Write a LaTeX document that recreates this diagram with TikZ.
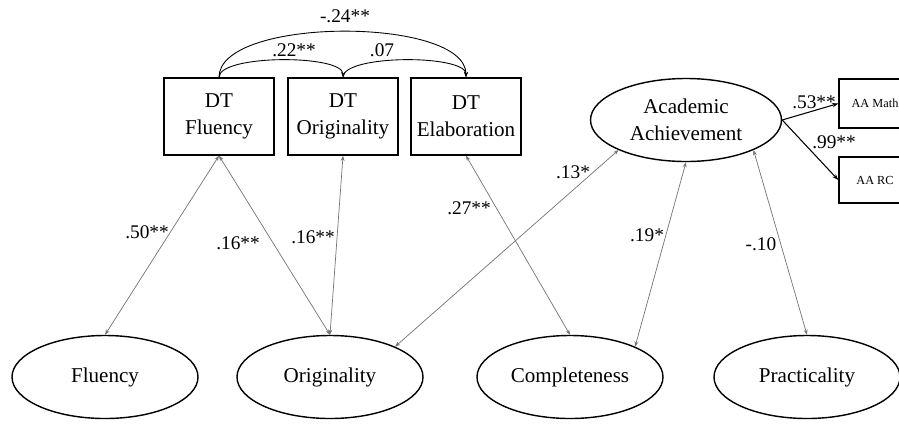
\documentclass[tikz,border=0pt]{standalone}
\usepackage{fontspec}
\setmainfont{Liberation Serif}
\usetikzlibrary{shapes.geometric,arrows.meta}
\begin{document}
\begin{tikzpicture}[x=0.2mm,y=-0.2mm,
  every node/.style={font=\fontsize{12}{15.5}\selectfont},
  dtbox/.style={draw,thick,minimum width=22mm,minimum height=15.4mm,align=center,inner sep=0pt},
  aabox/.style={draw,thick,minimum width=14.4mm,minimum height=9.8mm,inner sep=0pt,font=\fontsize{7}{8}\selectfont},
  latent/.style={draw,thick,ellipse,minimum width=37.2mm,minimum height=16.6mm,inner sep=0pt,align=center},
  coef/.style={font=\fontsize{11}{13}\selectfont,inner sep=1pt},
  cov/.style={draw=black!55,line width=0.4pt,{Stealth[length=3pt,width=2.2pt]}-{Stealth[length=3pt,width=2.2pt]}},
  arc/.style={draw,line width=0.5pt,-{Stealth[length=3pt,width=2.2pt]}},
  load/.style={draw,line width=0.6pt,-{Stealth[length=3.5pt,width=2.5pt]}}]
\clip (0,0) rectangle (899,423);
% DT scores
\node[dtbox] (dfl) at (219,116.5) {DT\\Fluency};
\node[dtbox] (dor) at (343,116.5) {DT\\Originality};
\node[dtbox] (del) at (466,116.5) {DT\\Elaboration};
% academic achievement
\node[latent,minimum width=38.2mm] (aa) at (686,120) {Academic\\Achievement};
\node[aabox] (math) at (875,103.5) {AA Math};
\node[aabox,minimum height=9.2mm] (rc) at (875,180) {AA RC};
% creativity factors
\node[latent] (flu) at (105,377) {Fluency};
\node[latent] (ori) at (330,377) {Originality};
\node[latent] (com) at (570,377) {Completeness};
\node[latent] (pra) at (807,377) {Practicality};
% covariances between DT scores
\draw[arc] (dfl.north) .. controls +(0,-23) and +(0,-23) .. (dor.north);
\draw[arc] (dor.north) .. controls +(0,-23) and +(0,-23) .. (del.north);
\draw[arc] (dfl.north) .. controls +(0,-61) and +(0,-61) .. (del.north);
\node[coef] (c1) at (345,16) {-.24**};
\node[coef] (c2) at (294,50) {.22**};
\node[coef] (c3) at (382,50) {.07};
% paths
\draw[cov] (flu.north) -- (dfl.south);
\draw[cov] (dfl.south) -- (ori.north);
\draw[cov] (dor.south) -- (ori.north);
\draw[cov] (del.south) -- (com.north);
\draw[cov] (ori.25) -- (aa.204);
\draw[cov] (com.25) -- (aa.south);
\draw[cov] (pra.north) -- (aa.336);
\node[coef] (p1) at (147,232) {.50**};
\node[coef] (p2) at (238,243) {.16**};
\node[coef] (p3) at (313,237) {.16**};
\node[coef] (p4) at (469,208) {.27**};
\node[coef] (p5) at (573,172) {.13*};
\node[coef] (p6) at (647,235) {.19*};
\node[coef] (p7) at (761,244) {-.10};
% indicators
\draw[load] (aa.east) -- (math.west);
\draw[load] (aa.east) -- (rc.west);
\node[coef] (l1) at (814,102) {.53**};
\node[coef] (l2) at (834,142) {.99**};
\end{tikzpicture}
\end{document}
